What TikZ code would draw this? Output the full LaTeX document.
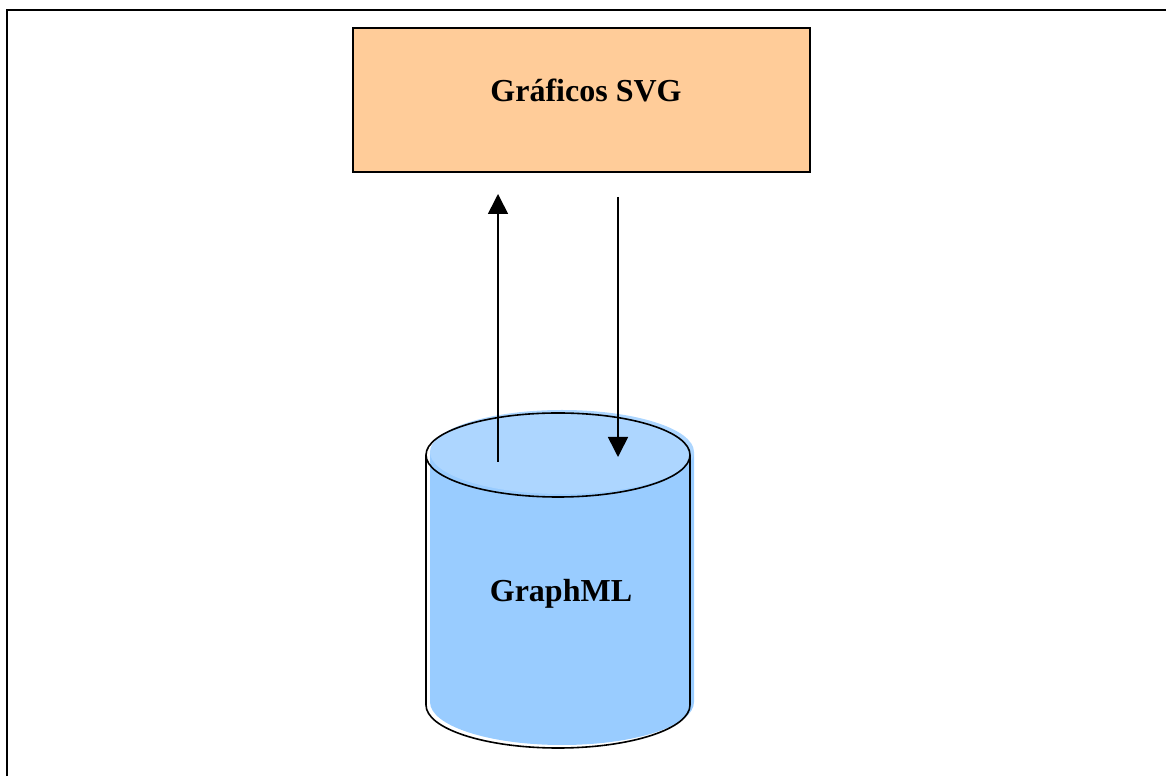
\documentclass[tikz,border=0pt]{standalone}
\usepackage{fontspec}
\setmainfont{Liberation Serif}
\usetikzlibrary{arrows.meta}
\definecolor{peach}{HTML}{FFCC99}
\definecolor{dbbody}{HTML}{99CCFF}
\definecolor{dbtop}{HTML}{ADD6FF}
\tikzset{
  frameline/.style={line width=2.6pt},
  box/.style={draw, line width=1.8pt, fill=peach, minimum width=457pt, minimum height=144pt, inner sep=0pt},
  lbl/.style={font=\fontsize{32}{36}\selectfont\bfseries, inner sep=0pt},
  outline/.style={line width=1.6pt},
  flow/.style={line width=1.6pt, -{Triangle[width=20pt,length=20pt]}}
}
\begin{document}
\begin{tikzpicture}[x=1pt,y=1pt]
  \useasboundingbox (0,0) rectangle (1166,776);
  % page frame: left and top rules only
  \draw[frameline] (7,0) -- (7,766) -- (1166,766);

  % SVG graphics box
  \node[box] (svg) at (581.5,676) {};
  \node[lbl, anchor=base] (svgtext) at (586,674) {Gráficos SVG};

  % GraphML store: fill offset slightly up and right of the outline
  \begin{scope}[shift={(4,3)}]
    \fill[dbbody] (426,321) -- (426,71)
      arc[start angle=180, end angle=360, x radius=132pt, y radius=43pt]
      -- (690,321) -- cycle;
    \fill[dbtop] (558,321) ellipse [x radius=132pt, y radius=42pt];
  \end{scope}
  \draw[outline] (558,321) ellipse [x radius=132pt, y radius=42pt];
  \draw[outline] (426,321) -- (426,71)
    arc[start angle=180, end angle=360, x radius=132pt, y radius=43pt]
    -- (690,321);
  \node[lbl, anchor=base] (graphml) at (561,174) {GraphML};

  % arrow end points
  \coordinate (upfrom) at (498,314);
  \coordinate (upto) at (498,582);
  \coordinate (downfrom) at (618,579);
  \coordinate (downto) at (618,319);
  \draw[flow] (upfrom) -- (upto);
  \draw[flow] (downfrom) -- (downto);
\end{tikzpicture}
\end{document}
